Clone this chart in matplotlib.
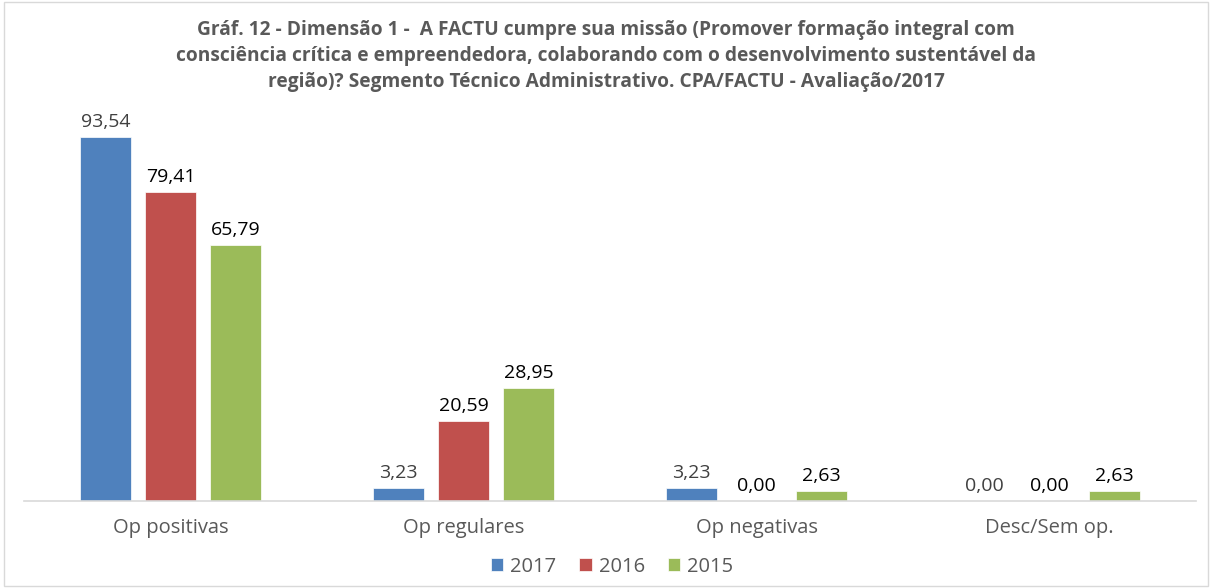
import matplotlib.pyplot as plt
import numpy as np
from matplotlib.patches import Rectangle

categories = ["Op positivas", "Op regulares", "Op negativas", "Desc/Sem op."]
years = ["2017", "2016", "2015"]
v2017 = [93.54, 3.23, 3.23, 0.00]
v2016 = [79.41, 20.59, 0.00, 0.00]
v2015 = [65.79, 28.95, 2.63, 2.63]
colors = ["#4f81bd", "#c0504d", "#9bbb59"]
label_colors = ["#404040", "#000000", "#000000"]

title = ("Gráf. 12 - Dimensão 1 -  A FACTU cumpre sua missão (Promover formação integral com\n"
         "consciência crítica e empreendedora, colaborando com o desenvolvimento sustentável da\n"
         "região)? Segmento Técnico Administrativo. CPA/FACTU - Avaliação/2017")

plt.rcParams['font.family'] = ['Open Sans', 'DejaVu Sans']

fig = plt.figure(figsize=(12.12, 5.88), dpi=100)
ax = fig.add_axes([0.0198, 0.148, 0.967, 0.662])

x = np.arange(len(categories))
width = 0.174
step = 0.222
for i, (vals, c) in enumerate(zip([v2017, v2016, v2015], colors)):
    pos = x + (i - 1) * step
    bars = ax.bar(pos, vals, width, color=c, label=years[i], edgecolor="white", linewidth=0.5)
    for b, v in zip(bars, vals):
        ax.text(b.get_x() + b.get_width() / 2, v + 1.6, f"{v:.2f}".replace(".", ","),
                ha="center", va="bottom", fontsize=14, color=label_colors[i])

ax.set_xlim(-0.5, 3.5)
ax.set_ylim(0, 100)
ax.set_yticks([])
ax.set_xticks(x)
ax.set_xticklabels(categories, fontsize=14.5, color="#595959")
ax.tick_params(axis="x", length=0, pad=12)
for s in ["top", "right", "left"]:
    ax.spines[s].set_visible(False)
ax.spines["bottom"].set_color("#d9d9d9")
ax.spines["bottom"].set_linewidth(1.2)

fig.text(0.5, 0.905, title, ha="center", va="center", fontsize=13.8, fontweight="bold",
         color="#595959", linespacing=1.4)

fig.legend(loc="center", bbox_to_anchor=(0.505, 0.036), ncol=3, frameon=False, fontsize=14.5,
           handlelength=0.6, handleheight=0.6, handletextpad=0.35, columnspacing=1.15,
           labelcolor="#595959")

fig.patches.append(Rectangle((0.003, 0.003), 0.994, 0.994, transform=fig.transFigure,
                             fill=False, edgecolor="#d9d9d9", linewidth=1))

fig.savefig("out.png", dpi=100)
